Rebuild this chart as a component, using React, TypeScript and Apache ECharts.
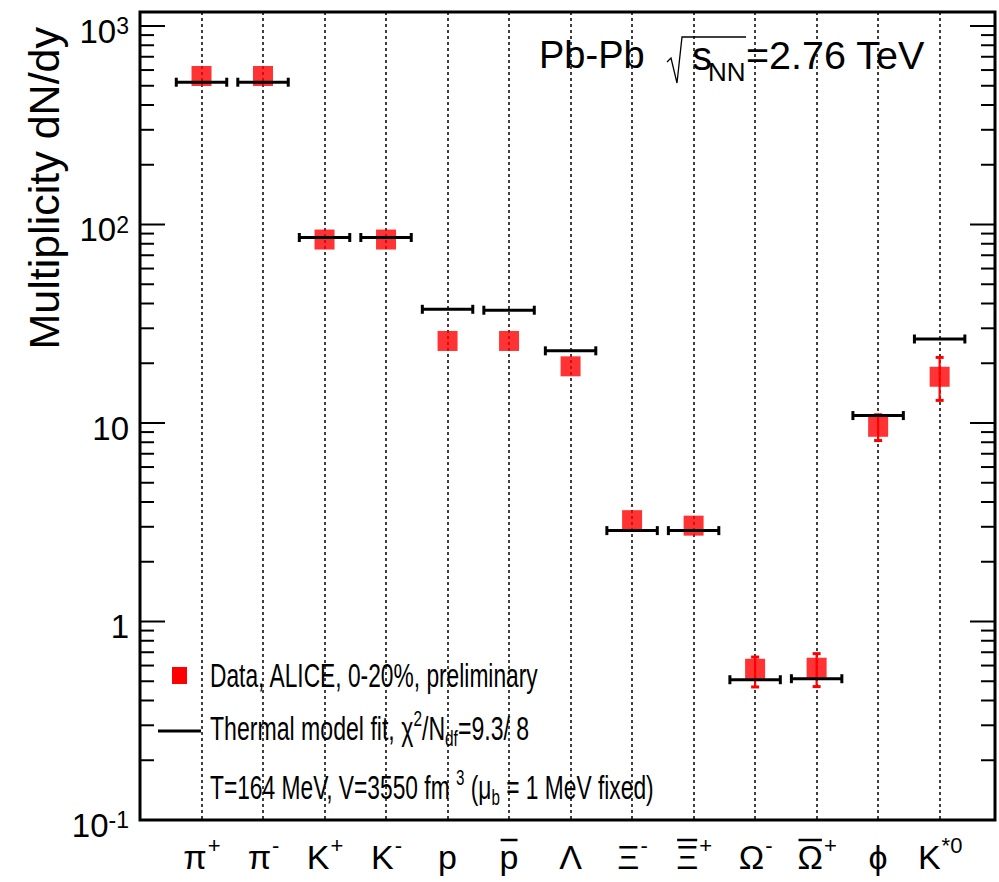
import React, { useEffect, useRef } from 'react';
import * as echarts from 'echarts';

const FONT = '"Liberation Sans", Arial, Helvetica, sans-serif';

// Categories (particle species)
const categories = ['π+', 'π-', 'K+', 'K-', 'p', 'p̄', 'Λ', 'Ξ-', 'Ξ̄+', 'Ω-', 'Ω̄+', 'ϕ', 'K*0'];
const labelBase = ['π', 'π', 'K', 'K', 'p', 'p', 'Λ', 'Ξ', 'Ξ', 'Ω', 'Ω', 'ϕ', 'K'];
const labelSup = ['+', '-', '+', '-', '', '', '', '-', '+', '-', '+', '', '*0'];
const labelBar = [false, false, false, false, false, true, false, false, true, false, true, false, false];

// Measured yields (ALICE, 0-20%)
const dataValues = [560, 560, 84, 84, 25.9, 25.9, 19.3, 3.24, 3.04, 0.578, 0.585, 9.57, 17.1];
const dataErrLow = [560, 560, 84, 84, 25.9, 25.9, 19.3, 3.24, 3.04, 0.468, 0.47, 8.16, 13.0];
const dataErrHigh = [560, 560, 84, 84, 25.9, 25.9, 19.3, 3.24, 3.04, 0.662, 0.689, 11.0, 21.4];
// Thermal model fit
const modelValues = [521, 521, 86, 86, 37.4, 37, 23.1, 2.87, 2.87, 0.509, 0.515, 10.9, 26.5];

// Y axis ticks
const majorTicks = [0.1, 1, 10, 100, 1000];
const minorSteps = [2, 3, 4, 5, 6, 7, 8, 9];

const LABEL_SIZE = 34;
const SUP_SIZE = 22;
const MODEL_HALF = 0.41;

let measureCtx: CanvasRenderingContext2D | null = null;
function textWidth(t: string, size: number): number {
  if (!measureCtx) measureCtx = document.createElement('canvas').getContext('2d');
  if (!measureCtx) return t.length * size * 0.55;
  measureCtx.font = `${size}px ${FONT}`;
  return measureCtx.measureText(t).width;
}

export default function App() {
  const ref = useRef<HTMLDivElement>(null);

  useEffect(() => {
    if (!ref.current) return;
    const chart = echarts.init(ref.current, undefined, { renderer: 'svg' });

    const tickData: number[][] = [];
    majorTicks.forEach((m, k) => {
      tickData.push([0, m, 1]);
      if (k < majorTicks.length - 1) minorSteps.forEach((s) => tickData.push([0, m * s, 0]));
    });

    const legendStyle = {
      fontSize: 33,
      fontFamily: FONT,
      fill: '#000',
      align: 'left',
      verticalAlign: 'middle',
    };
    const legendRich = {
      a: { fontSize: 33, fontFamily: FONT, color: '#000', lineHeight: 42 },
      sp: { fontSize: 22, fontFamily: FONT, color: '#000', verticalAlign: 'top', padding: [0, 0, 20, 0] },
      sb: { fontSize: 22, fontFamily: FONT, color: '#000', verticalAlign: 'bottom', padding: [20, 0, 0, 0] },
    };

    const option: any = {
      animation: false,
      backgroundColor: '#fff',
      grid: {
        left: 140,
        right: 4,
        top: 12,
        bottom: 62,
        show: true,
        borderColor: '#000',
        borderWidth: 3,
        containLabel: false,
      },
      xAxis: {
        type: 'value',
        min: -1,
        max: 12.9,
        interval: 1,
        axisLine: { show: false },
        axisTick: { show: false },
        axisLabel: { show: false },
        splitLine: { show: true, lineStyle: { color: '#000', width: 1.5, type: [3, 3] } },
      },
      yAxis: {
        type: 'log',
        logBase: 10,
        min: 0.1,
        max: 1176.5,
        axisLine: { show: false },
        axisTick: { show: false },
        splitLine: { show: false },
        axisLabel: {
          margin: 11,
          formatter: (v: number) => {
            const l = Math.log10(v);
            const e = Math.round(l);
            if (Math.abs(l - e) > 1e-6) return '';
            if (e === 0) return '{b|1}';
            if (e === 1) return '{b|10}';
            return `{b|10}{s|${e}}`;
          },
          rich: {
            b: { fontSize: 33, fontFamily: FONT, color: '#000', padding: [10, 0, 0, 0] },
            s: { fontSize: 23, fontFamily: FONT, color: '#000', verticalAlign: 'top', padding: [10, 0, 0, 0] },
          },
        },
      },
      series: [
        {
          type: 'custom',
          name: 'errors',
          z: 3,
          data: categories.map((_, i) => [i, dataErrLow[i], dataErrHigh[i]]),
          encode: { x: 0, y: [1, 2] },
          renderItem: (params: any, api: any) => {
            const i = api.value(0);
            const lo = api.value(1);
            const hi = api.value(2);
            if (hi <= lo) return null;
            const pl = api.coord([i, lo]);
            const ph = api.coord([i, hi]);
            const st = { stroke: '#ff0000', lineWidth: 2.2 };
            return {
              type: 'group',
              children: [
                { type: 'line', shape: { x1: pl[0], y1: pl[1], x2: ph[0], y2: ph[1] }, style: st },
                { type: 'line', shape: { x1: pl[0] - 4, y1: pl[1], x2: pl[0] + 4, y2: pl[1] }, style: { stroke: '#ff0000', lineWidth: 3 } },
                { type: 'line', shape: { x1: ph[0] - 4, y1: ph[1], x2: ph[0] + 4, y2: ph[1] }, style: { stroke: '#ff0000', lineWidth: 3 } },
              ],
            };
          },
        },
        {
          type: 'scatter',
          name: 'Data',
          z: 4,
          symbol: 'rect',
          symbolSize: 20,
          itemStyle: { color: '#ff0000' },
          data: categories.map((_, i) => [i, dataValues[i]]),
        },
        {
          type: 'custom',
          name: 'Thermal model',
          z: 5,
          data: categories.map((_, i) => [i, modelValues[i]]),
          encode: { x: 0, y: 1 },
          renderItem: (params: any, api: any) => {
            const i = api.value(0);
            const v = api.value(1);
            const p0 = api.coord([i - MODEL_HALF, v]);
            const p1 = api.coord([i + MODEL_HALF, v]);
            const st = { stroke: '#000', lineWidth: 3 };
            return {
              type: 'group',
              children: [
                { type: 'line', shape: { x1: p0[0], y1: p0[1], x2: p1[0], y2: p1[1] }, style: st },
                { type: 'line', shape: { x1: p0[0], y1: p0[1] - 4.5, x2: p0[0], y2: p0[1] + 4.5 }, style: st },
                { type: 'line', shape: { x1: p1[0], y1: p1[1] - 4.5, x2: p1[0], y2: p1[1] + 4.5 }, style: st },
              ],
            };
          },
        },
        {
          type: 'custom',
          name: 'yticks',
          z: 6,
          silent: true,
          data: tickData,
          encode: { x: 0, y: 1 },
          renderItem: (params: any, api: any) => {
            const v = api.value(1);
            const major = api.value(2);
            const y = api.coord([0, v])[1];
            const cs = params.coordSys;
            const len = major ? 25 : 14;
            const st = { stroke: '#000', lineWidth: 2 };
            return {
              type: 'group',
              children: [
                { type: 'line', shape: { x1: cs.x, y1: y, x2: cs.x + len, y2: y }, style: st },
                { type: 'line', shape: { x1: cs.x + cs.width - len, y1: y, x2: cs.x + cs.width, y2: y }, style: st },
              ],
            };
          },
        },
        {
          type: 'custom',
          name: 'xlabels',
          z: 6,
          silent: true,
          clip: false,
          data: categories.map((_, i) => [i, 0.1]),
          encode: { x: 0, y: 1 },
          renderItem: (params: any, api: any) => {
            const i = api.value(0);
            const cs = params.coordSys;
            const x = api.coord([i, 0.1])[0];
            const y = cs.y + cs.height + 37;
            const base = labelBase[i];
            const sup = labelSup[i];
            const wb = textWidth(base, LABEL_SIZE);
            const ws = sup ? textWidth(sup, SUP_SIZE) : 0;
            const x0 = x - (wb + ws) / 2;
            const children: any[] = [
              {
                type: 'text',
                x: x0,
                y,
                style: { text: base, fontSize: LABEL_SIZE, fontFamily: FONT, fill: '#000', align: 'left', verticalAlign: 'middle' },
              },
            ];
            if (sup) {
              children.push({
                type: 'text',
                x: x0 + wb + 1,
                y: y - 12,
                style: { text: sup, fontSize: SUP_SIZE, fontFamily: FONT, fill: '#000', align: 'left', verticalAlign: 'middle' },
              });
            }
            if (labelBar[i]) {
              children.push({
                type: 'line',
                shape: { x1: x0 + 1, y1: y - 17, x2: x0 + wb - 1, y2: y - 17 },
                style: { stroke: '#000', lineWidth: 2.5 },
              });
            }
            return { type: 'group', children };
          },
        },
      ],
      graphic: [
        // y axis title
        {
          type: 'text',
          x: 44,
          y: 27,
          rotation: Math.PI / 2,
          style: { text: 'Multiplicity dN/dy', fontSize: 43, fontFamily: FONT, fill: '#000', align: 'right', verticalAlign: 'middle' },
        },
        // title
        {
          type: 'text',
          x: 539,
          y: 55,
          style: { text: 'Pb-Pb', fontSize: 38, fontFamily: FONT, fill: '#000', align: 'left', verticalAlign: 'middle' },
        },
        {
          type: 'polyline',
          shape: { points: [[667, 62], [671, 58], [677, 83], [682, 37], [746, 37]] },
          style: { stroke: '#000', lineWidth: 1.3, fill: 'none' },
        },
        {
          type: 'text',
          x: 692,
          y: 56,
          style: { text: 's', fontSize: 40, fontFamily: FONT, fill: '#000', align: 'left', verticalAlign: 'middle' },
        },
        {
          type: 'text',
          x: 708,
          y: 72,
          style: { text: 'NN', fontSize: 26, fontFamily: FONT, fill: '#000', align: 'left', verticalAlign: 'middle' },
        },
        {
          type: 'text',
          x: 746,
          y: 55,
          style: { text: '=2.76 TeV', fontSize: 39.5, fontFamily: FONT, fill: '#000', align: 'left', verticalAlign: 'middle' },
        },
        // legend
        {
          type: 'rect',
          shape: { x: 172, y: 667, width: 15, height: 17 },
          style: { fill: '#ff0000' },
        },
        {
          type: 'line',
          shape: { x1: 158, y1: 731, x2: 201, y2: 731 },
          style: { stroke: '#000', lineWidth: 3 },
        },
        {
          type: 'text',
          x: 210,
          y: 675,
          scaleX: 0.69,
          style: { ...legendStyle, text: 'Data, ALICE, 0-20%, preliminary' },
        },
        {
          type: 'text',
          x: 210,
          y: 728,
          scaleX: 0.7,
          style: { ...legendStyle, text: '{a|Thermal model fit, χ}{sp|2}{a|/N}{sb|df}{a|=9.3/ 8}', rich: legendRich },
        },
        {
          type: 'text',
          x: 210,
          y: 787,
          scaleX: 0.69,
          style: { ...legendStyle, text: '{a|T=164 MeV, V=3550 fm }{sp|3}{a| (μ}{sb|b}{a| = 1 MeV fixed)}', rich: legendRich },
        },
      ],
    };

    chart.setOption(option);
    return () => chart.dispose();
  }, []);

  return <div ref={ref} style={{ width: 999, height: 882, position: 'absolute', left: 0, top: 0 }} />;
}
